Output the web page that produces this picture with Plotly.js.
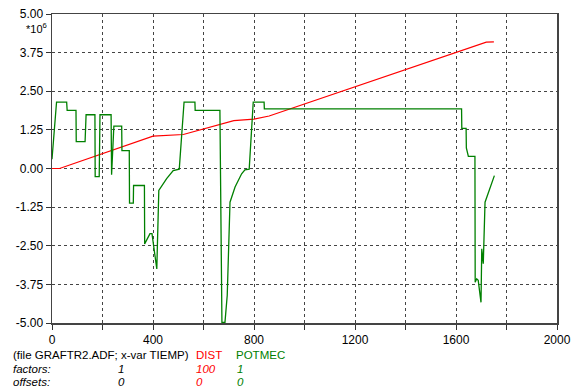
<!DOCTYPE html>
<html><head><meta charset="utf-8">
<script src="https://cdn.plot.ly/plotly-3.0.1.min.js"></script>
<style>html,body{margin:0;padding:0;background:#fff}#chart{width:584px;height:389px}</style>
</head><body><div id="chart"></div>
<script>
// DIST (scaled by factor 100, units *10^6)
const distX = [0, 30, 400, 520, 720, 800, 860, 1700, 1720, 1750];
const distY = [0, 0, 1.05, 1.1, 1.55, 1.6, 1.7, 4.05, 4.09, 4.1];
// POTMEC (units *10^6)
const potX = [0, 18, 58, 60, 95, 96, 131, 135, 170, 171, 187, 190, 234, 236, 245, 276, 277, 306, 307, 322, 323, 366, 367, 388, 396, 415, 423, 454, 480, 504, 523, 566, 567, 665, 673, 685, 694, 705, 725, 751, 764, 781, 797, 840, 841, 1622, 1623, 1640, 1641, 1649, 1675, 1676, 1682, 1688, 1699, 1702, 1708, 1715, 1752];
const potY = [0.3, 2.15, 2.15, 1.88, 1.88, 0.87, 0.87, 1.74, 1.74, -0.26, -0.26, 1.74, 1.74, -0.2, 1.37, 1.37, 0.58, 0.58, -1.12, -1.12, -0.55, -0.55, -2.44, -2.11, -2.11, -3.25, -0.71, -0.33, -0.07, -0.02, 2.15, 2.15, 1.88, 1.88, -4.98, -4.98, -4.1, -1.09, -0.6, -0.17, -0.04, -0.02, 2.15, 2.15, 1.93, 1.93, 1.3, 1.3, 0.67, 0.39, 0.39, -3.68, -3.57, -3.62, -4.33, -2.6, -3.08, -1.09, -0.23];
const yTicks = [-5, -3.75, -2.5, -1.25, 0, 1.25, 2.5, 3.75, 5];
const xTicks = [0, 400, 800, 1200, 1600, 2000];

const font = 'Liberation Sans, Arial, sans-serif';
const traces = [
  {x: distX, y: distY, type: 'scatter', mode: 'lines', line: {color: '#ff0000', width: 1.2}, name: 'DIST'},
  {x: potX, y: potY, type: 'scatter', mode: 'lines', line: {color: '#008000', width: 1.3}, name: 'POTMEC'}
];
function px(x){return (x-52)/505;}
function py(y){return (323-y)/309;}
function ann(text, x, y, color, italic, anchor){
  return {text: italic ? '<i>'+text+'</i>' : text, xref:'paper', yref:'paper', x: px(x), y: py(y),
    xanchor: anchor||'left', yanchor:'middle', showarrow:false, font:{family:font, size:11.5, color:color||'#000'}};
}
const grid = {showgrid: true, gridcolor: '#444', griddash: 'dot', gridwidth: 1};
const layout = {
  width: 584, height: 389,
  margin: {l: 52, r: 27, t: 14, b: 66},
  paper_bgcolor: '#fff', plot_bgcolor: '#fff',
  showlegend: false,
  font: {family: font, size: 12, color: '#000'},
  xaxis: Object.assign({range: [0, 2000], tickvals: xTicks, ticktext: xTicks.map(String), ticks: 'outside', ticklen: 5, tickcolor: '#333',
    minor: {dtick: 200, tick0: 0, ticks: 'outside', ticklen: 5, tickcolor: '#333', showgrid: true, gridcolor: '#444', griddash: 'dot', gridwidth: 1},
    zeroline: false, showline: true, linecolor: '#444', linewidth: 1.5, mirror: true, tickfont: {family: font, size: 12}}, grid),
  yaxis: Object.assign({range: [-5, 5], tickvals: yTicks, ticktext: yTicks.map(v => v.toFixed(2)), ticks: 'outside', ticklen: 5, tickcolor: '#333',
    zeroline: false, showline: true, linecolor: '#444', linewidth: 1.5, mirror: true, tickfont: {family: font, size: 12}}, grid),
  annotations: [
    {text: '*10<sup>6</sup>', xref: 'paper', yref: 'paper', x: px(36), y: py(28), xanchor: 'center', yanchor: 'middle', showarrow: false, font: {family: font, size: 11}},
    ann('(file GRAFTR2.ADF; x-var TIEMP)', 11, 355),
    ann('DIST', 194, 355, '#ff0000'),
    ann('POTMEC', 234, 355, '#008000'),
    ann('factors:', 11, 369, '#000', true),
    ann('1', 121, 369, '#000', true, 'center'),
    ann('100', 194, 369, '#ff0000', true),
    ann('1', 235, 369, '#008000', true),
    ann('offsets:', 11, 382, '#000', true),
    ann('0', 121, 382, '#000', true, 'center'),
    ann('0', 194, 382, '#ff0000', true),
    ann('0', 235, 382, '#008000', true)
  ]
};
Plotly.newPlot('chart', traces, layout, {staticPlot: true, displayModeBar: false});
</script></body></html>
